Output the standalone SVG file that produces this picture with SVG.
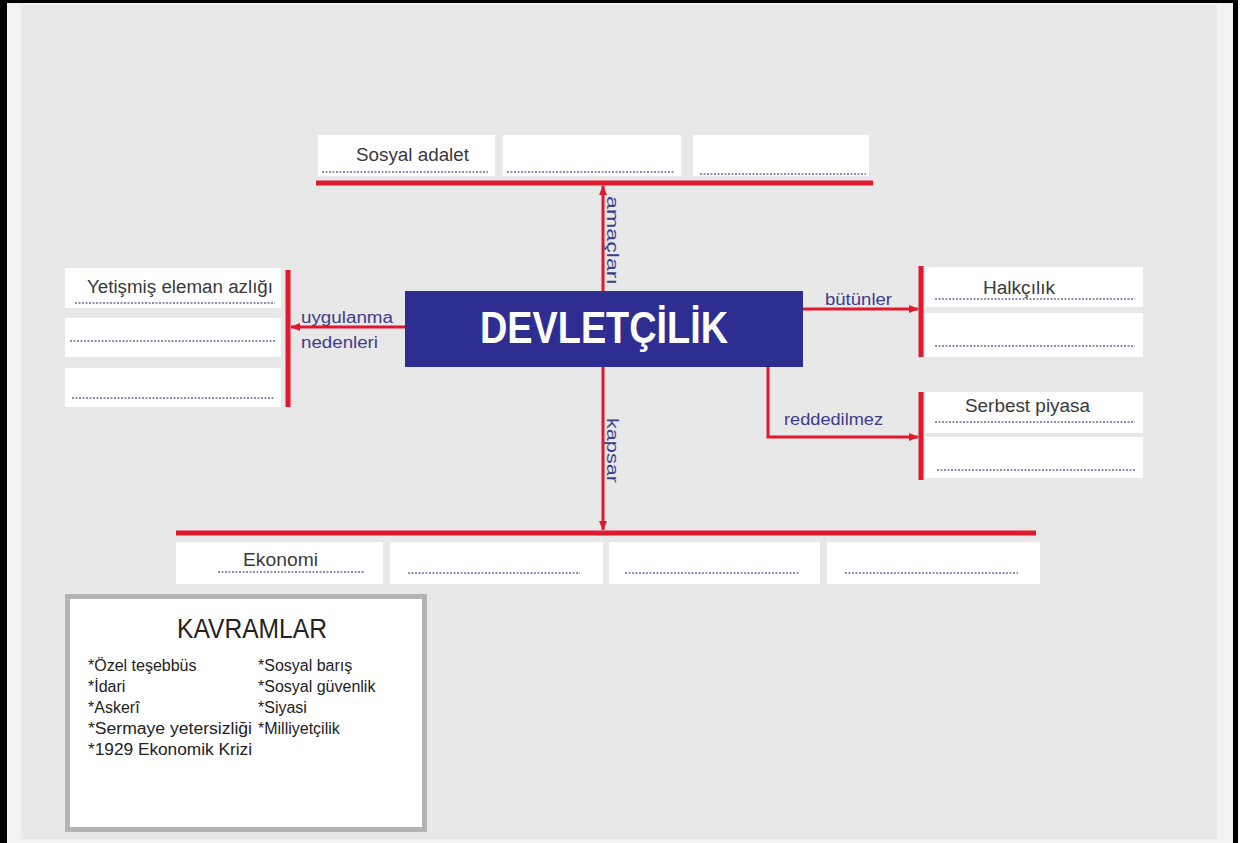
<svg xmlns="http://www.w3.org/2000/svg" width="1244" height="843" viewBox="0 0 1244 843">
<defs>
<style>
.box{fill:#ffffff;}
.dot{stroke:#6b6b9e;stroke-width:1.5;stroke-dasharray:2 1.5;fill:none;}
.bar{stroke:#e0192e;stroke-width:5;fill:none;}
.con{stroke:#e0192e;stroke-width:3;fill:none;}
.txt{font-family:"Liberation Sans",Arial,sans-serif;font-size:18px;fill:#3a3a3a;}
.lbl{font-family:"Liberation Sans",Arial,sans-serif;font-size:16px;fill:#3c3c8c;}
.kv{font-family:"Liberation Sans",Arial,sans-serif;font-size:16px;fill:#222222;}
</style>
<marker id="ah" viewBox="0 0 10 10" refX="9" refY="5" markerWidth="10" markerHeight="10" markerUnits="userSpaceOnUse" orient="auto">
<path d="M0,1 L10,5 L0,9 Z" fill="#e0192e"/>
</marker>
</defs>
<rect x="0" y="0" width="1244" height="843" fill="#ffffff"/>
<rect x="7" y="3" width="1226" height="840" fill="#f2f2f2"/>
<rect x="21" y="5" width="1196" height="834" fill="#e8e8e8"/>
<rect x="0" y="0" width="7" height="843" fill="#000000"/>
<rect x="0" y="0" width="1238" height="3" fill="#000000"/>
<rect x="1233" y="0" width="5" height="843" fill="#000000"/>

<g id="center">
<rect x="405" y="291" width="398" height="76" fill="#2e2e92"/>
<text x="604" y="343" text-anchor="middle" font-family="'Liberation Sans',Arial,sans-serif" font-weight="bold" font-size="44" fill="#ffffff" textLength="248" lengthAdjust="spacingAndGlyphs">DEVLETÇİLİK</text>
</g>

<g id="top-boxes">
<rect class="box" x="318" y="135" width="177" height="41"/>
<rect class="box" x="503" y="135" width="178" height="41"/>
<rect class="box" x="693" y="135" width="176" height="41"/>
<text class="txt" x="356" y="161" textLength="113" lengthAdjust="spacingAndGlyphs">Sosyal adalet</text>
<line class="dot" x1="322" y1="172" x2="488" y2="172"/>
<line class="dot" x1="507" y1="172" x2="674" y2="172"/>
<line class="dot" x1="700" y1="174" x2="866" y2="174"/>
</g>

<g id="left-boxes">
<rect class="box" x="65" y="268" width="216" height="40"/>
<rect class="box" x="65" y="318" width="216" height="39"/>
<rect class="box" x="65" y="368" width="216" height="39"/>
<text class="txt" x="87" y="293" textLength="186" lengthAdjust="spacingAndGlyphs">Yetişmiş eleman azlığı</text>
<line class="dot" x1="75" y1="303" x2="275" y2="303"/>
<line class="dot" x1="70" y1="341" x2="275" y2="341"/>
<line class="dot" x1="72" y1="398" x2="275" y2="398"/>
</g>

<g id="right-boxes-1">
<rect class="box" x="925" y="267" width="218" height="40"/>
<rect class="box" x="925" y="313" width="218" height="44"/>
<text class="txt" x="983" y="294" textLength="72" lengthAdjust="spacingAndGlyphs">Halkçılık</text>
<line class="dot" x1="935" y1="299" x2="1135" y2="299"/>
<line class="dot" x1="935" y1="346" x2="1135" y2="346"/>
</g>

<g id="right-boxes-2">
<rect class="box" x="925" y="392" width="218" height="41"/>
<rect class="box" x="925" y="437" width="218" height="41"/>
<text class="txt" x="965" y="412" textLength="125" lengthAdjust="spacingAndGlyphs">Serbest piyasa</text>
<line class="dot" x1="935" y1="422" x2="1135" y2="422"/>
<line class="dot" x1="937" y1="470" x2="1135" y2="470"/>
</g>

<g id="bottom-boxes">
<rect class="box" x="176" y="542" width="207" height="42"/>
<rect class="box" x="390" y="542" width="213" height="42"/>
<rect class="box" x="609" y="542" width="211" height="42"/>
<rect class="box" x="827" y="542" width="213" height="42"/>
<text class="txt" x="243" y="566" textLength="75" lengthAdjust="spacingAndGlyphs">Ekonomi</text>
<line class="dot" x1="218" y1="572" x2="365" y2="572"/>
<line class="dot" x1="408" y1="573" x2="580" y2="573"/>
<line class="dot" x1="625" y1="573" x2="800" y2="573"/>
<line class="dot" x1="845" y1="573" x2="1018" y2="573"/>
</g>

<g id="connectors">
<line class="bar" x1="316" y1="183" x2="873" y2="183"/>
<line class="bar" x1="176" y1="533" x2="1036" y2="533"/>
<line class="bar" x1="288" y1="270" x2="288" y2="407"/>
<line class="bar" x1="921" y1="266" x2="921" y2="357"/>
<line class="bar" x1="921" y1="392" x2="921" y2="480"/>
<line class="con" x1="603" y1="291" x2="603" y2="186" marker-end="url(#ah)"/>
<line class="con" x1="603" y1="367" x2="603" y2="530" marker-end="url(#ah)"/>
<line class="con" x1="405" y1="327" x2="291" y2="327" marker-end="url(#ah)"/>
<line class="con" x1="803" y1="309" x2="918" y2="309" marker-end="url(#ah)"/>
<polyline class="con" points="768,367 768,437 918,437" marker-end="url(#ah)"/>
<text class="lbl" x="301" y="323" textLength="92" lengthAdjust="spacingAndGlyphs">uygulanma</text>
<text class="lbl" x="301" y="348" textLength="77" lengthAdjust="spacingAndGlyphs">nedenleri</text>
<text class="lbl" x="825" y="305" textLength="67" lengthAdjust="spacingAndGlyphs">bütünler</text>
<text class="lbl" x="784" y="425" textLength="99" lengthAdjust="spacingAndGlyphs">reddedilmez</text>
<text class="lbl" transform="translate(607,196) rotate(90)" x="0" y="0" textLength="89" lengthAdjust="spacingAndGlyphs">amaçları</text>
<text class="lbl" transform="translate(607,418) rotate(90)" x="0" y="0" textLength="65" lengthAdjust="spacingAndGlyphs">kapsar</text>
</g>

<g id="kavramlar">
<rect x="67.5" y="596.5" width="357" height="233" fill="#ffffff" stroke="#b3b3b3" stroke-width="5"/>
<text x="177" y="638" font-family="'Liberation Sans',Arial,sans-serif" font-size="27" fill="#222222" textLength="150" lengthAdjust="spacingAndGlyphs">KAVRAMLAR</text>
<text class="kv" x="88" y="671">*Özel teşebbüs</text>
<text class="kv" x="88" y="692">*İdari</text>
<text class="kv" x="88" y="713">*Askerî</text>
<text class="kv" x="88" y="734" textLength="164" lengthAdjust="spacingAndGlyphs">*Sermaye yetersizliği</text>
<text class="kv" x="88" y="755" textLength="164" lengthAdjust="spacingAndGlyphs">*1929 Ekonomik Krizi</text>
<text class="kv" x="258" y="671">*Sosyal barış</text>
<text class="kv" x="258" y="692">*Sosyal güvenlik</text>
<text class="kv" x="258" y="713">*Siyasi</text>
<text class="kv" x="258" y="734">*Milliyetçilik</text>
</g>
</svg>
